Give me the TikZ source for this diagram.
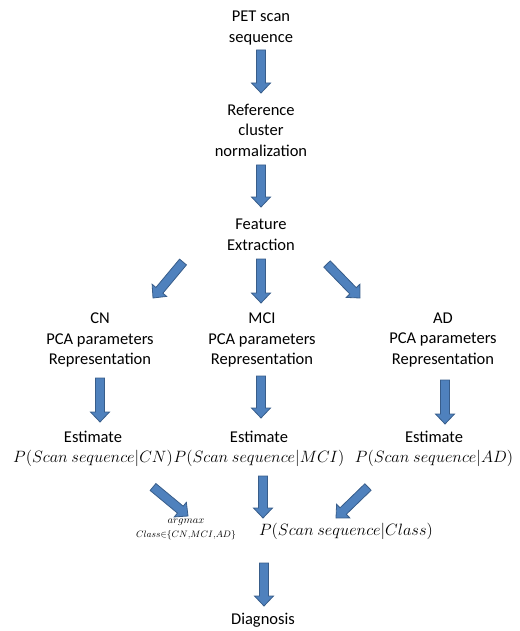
\RequirePackage{fix-cm}
\documentclass[tikz,border=0pt]{standalone}
\usepackage{fontspec}
\setmainfont{Carlito}
\usetikzlibrary{calc}
\definecolor{arrowfill}{HTML}{4F81BD}
\definecolor{arrowedge}{HTML}{385D8A}
\newcommand{\mathline}[1]{{\fontsize{16.4}{20.5}\selectfont$#1$}}
\tikzset{
  txt/.style={align=center, font=\fontsize{16.5}{20.5}\selectfont, inner sep=0pt},
  small/.style={align=center, inner sep=0pt},
  blockarrow/.style={fill=arrowfill, draw=arrowedge, line width=0.8pt, line join=miter,
    to path={
      ($(\tikztotarget)!10pt!(\tikztostart)$) coordinate (ba-h)
      ($(\tikztostart)!4.5pt!90:(\tikztotarget)$) -- ($(ba-h)!4.5pt!90:(\tikztotarget)$)
      -- ($(ba-h)!9.5pt!90:(\tikztotarget)$) -- (\tikztotarget)
      -- ($(ba-h)!9.5pt!-90:(\tikztotarget)$) -- ($(ba-h)!4.5pt!-90:(\tikztotarget)$)
      -- ($(\tikztostart)!4.5pt!-90:(\tikztotarget)$) -- cycle
    }}
}
\begin{document}
\begin{tikzpicture}[x=1pt,y=-1pt]
\useasboundingbox (0,0) rectangle (519,631);

\node[txt] (pet)  at (261,28)  {PET scan\\sequence};
\node[txt] (ref)  at (261,130) {Reference\\cluster\\normalization};
\node[txt] (feat) at (261,235) {Feature\\Extraction};
\node[txt] (cn)   at (100,340) {CN\\PCA parameters\\Representation};
\node[txt] (mci)  at (262,340) {MCI\\PCA parameters\\Representation};
\node[txt] (ad)   at (443,340) {AD\\PCA parameters\\Representation};
\node[txt] (ecn)  at (93,449)  {Estimate\\\mathline{P(Scan\ sequence|CN)}};
\node[txt] (emci) at (259,449) {Estimate\\\mathline{P(Scan\ sequence|MCI)}};
\node[txt] (ead)  at (434,449) {Estimate\\\mathline{P(Scan\ sequence|AD)}};
\node[small] (amax) at (186,529) {{\fontsize{10.5}{12}\selectfont $argmax$}\\[2pt]{\fontsize{9.3}{11}\selectfont $Class{\in}\{CN{,}MCI{,}AD\}$}};
\node[txt] (pcls) at (346,531) {\mathline{P(Scan\ sequence|Class)}};
\node[txt] (diag) at (263,620) {Diagnosis};

\coordinate (a1s) at (261,50);  \coordinate (a1e) at (261,93);
\coordinate (a2s) at (261,165); \coordinate (a2e) at (261,207);
\coordinate (a3s) at (183,262); \coordinate (a3e) at (153,298);
\coordinate (a4s) at (261,259); \coordinate (a4e) at (261,303);
\coordinate (a5s) at (327,264); \coordinate (a5e) at (360,298);
\coordinate (a6s) at (100,378); \coordinate (a6e) at (100,422);
\coordinate (a7s) at (261,376); \coordinate (a7e) at (261,418);
\coordinate (a8s) at (445,380); \coordinate (a8e) at (445,424);
\coordinate (a9s) at (153,487); \coordinate (a9e) at (188,516);
\coordinate (a10s) at (263,476); \coordinate (a10e) at (263,518);
\coordinate (a11s) at (368,487); \coordinate (a11e) at (336,518);
\coordinate (a12s) at (264,563); \coordinate (a12e) at (264,606);

\draw[blockarrow] (a1s) to (a1e);
\draw[blockarrow] (a2s) to (a2e);
\draw[blockarrow] (a3s) to (a3e);
\draw[blockarrow] (a4s) to (a4e);
\draw[blockarrow] (a5s) to (a5e);
\draw[blockarrow] (a6s) to (a6e);
\draw[blockarrow] (a7s) to (a7e);
\draw[blockarrow] (a8s) to (a8e);
\draw[blockarrow] (a9s) to (a9e);
\draw[blockarrow] (a10s) to (a10e);
\draw[blockarrow] (a11s) to (a11e);
\draw[blockarrow] (a12s) to (a12e);
\end{tikzpicture}
\end{document}
